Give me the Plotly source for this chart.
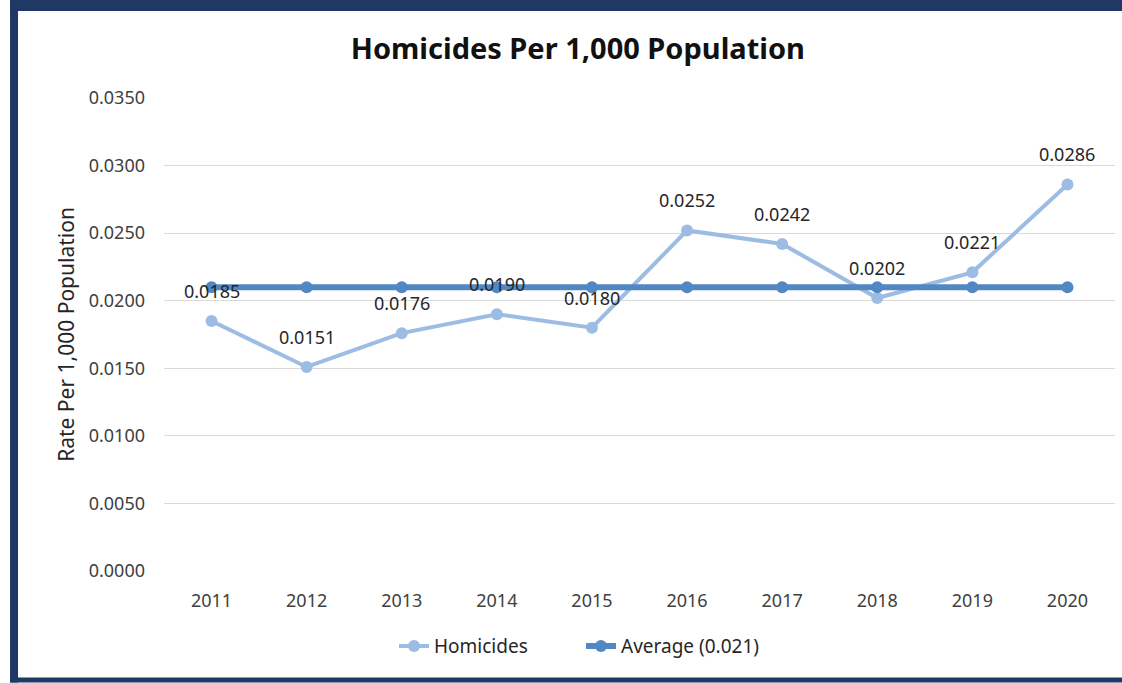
import plotly.graph_objects as go

years = ["2011", "2012", "2013", "2014", "2015", "2016", "2017", "2018", "2019", "2020"]
homicides = [0.0185, 0.0151, 0.0176, 0.0190, 0.0180, 0.0252, 0.0242, 0.0202, 0.0221, 0.0286]
average = [0.021] * len(years)
label_text = [f"{v:.4f}" for v in homicides]

FONT = "Noto Sans"
BORDER = "#203864"

fig = go.Figure()
fig.add_trace(go.Scatter(
    x=years, y=homicides, name="Homicides", mode="lines+markers",
    line=dict(color="#9DBCE3", width=4), marker=dict(size=12, color="#9DBCE3"),
))
fig.add_trace(go.Scatter(
    x=years, y=average, name="Average (0.021)", mode="lines+markers",
    line=dict(color="#5187C2", width=6), marker=dict(size=12, color="#5187C2"),
))

for i, (y, t) in enumerate(zip(homicides, label_text)):
    fig.add_annotation(x=i, y=y, text=t, showarrow=False, yshift=30,
                       font=dict(family=FONT, size=18, color="#262626"))

# outer navy frame (paper coords; plot area spans 164..1115 x, 98..571.5 y)
fig.add_shape(type="rect", xref="paper", yref="paper", x0=-0.1619, x1=-0.1535, y0=-0.2355, y1=1.2091,
              fillcolor=BORDER, line_width=0, layer="above")
fig.add_shape(type="rect", xref="paper", yref="paper", x0=-0.1619, x1=1.01, y0=1.1838, y1=1.2091,
              fillcolor=BORDER, line_width=0, layer="above")
fig.add_shape(type="rect", xref="paper", yref="paper", x0=-0.1619, x1=1.01, y0=-0.2355, y1=-0.2249,
              fillcolor=BORDER, line_width=0, layer="above")

fig.update_layout(
    width=1122, height=683,
    margin=dict(l=164, r=7, t=98, b=111.5),
    paper_bgcolor="white", plot_bgcolor="white",
    font=dict(family=FONT, size=18, color="#404040"),
    title=dict(text="<b>Homicides Per 1,000 Population</b>", x=0.515, xanchor="center",
               y=0.929, yanchor="middle", font=dict(family=FONT, size=29, color="#111111")),
    xaxis=dict(type="category", range=[-0.5, 9.5], showgrid=False, showline=False, ticks="",
               ticklabelstandoff=17,
               tickfont=dict(family=FONT, size=18, color="#404040")),
    yaxis=dict(range=[0, 0.035], dtick=0.005, tickformat=".4f", showgrid=True,
               gridcolor="#D9D9D9", gridwidth=1, zeroline=False, showline=False,
               ticks="", ticklabelstandoff=18,
               tickfont=dict(family=FONT, size=18, color="#404040"),
               title=dict(text="Rate Per 1,000 Population", standoff=8,
                          font=dict(family=FONT, size=21, color="#262626"))),
    legend=dict(orientation="h", x=0.4385, xanchor="center", y=-0.159, yanchor="middle",
                font=dict(family=FONT, size=19, color="#262626"), entrywidth=142),
    showlegend=True,
)

fig.write_html("out.html", config={"displayModeBar": False},
               post_script="document.body.style.margin='0';document.body.style.overflow='hidden';")
